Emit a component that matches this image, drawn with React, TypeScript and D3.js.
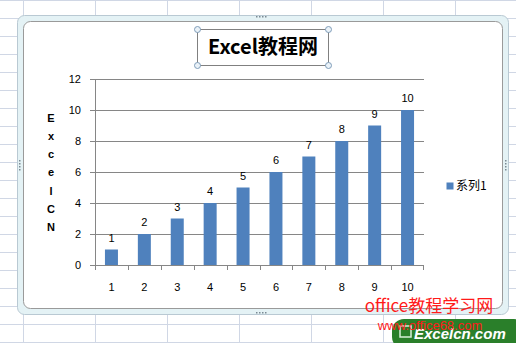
import React from "react";
import * as d3 from "d3";

const categories = ["1", "2", "3", "4", "5", "6", "7", "8", "9", "10"];
const values = [1, 2, 3, 4, 5, 6, 7, 8, 9, 10];
const yTicks = [0, 2, 4, 6, 8, 10, 12];
const seriesName = "系列1";
const titleText = "Excel教程网";
const yTitle = ["E", "x", "c", "e", "l", "C", "N"];

const W = 516, H = 343;
const plot = { left: 95, right: 424, top: 79, bottom: 265 };
const BAR = "#4F81BD";
const FONT = "'Liberation Sans', Arial, sans-serif";
const CJK = "'Noto Sans CJK SC', sans-serif";

export default function App() {
  const xb = d3.scaleBand<string>().domain(categories).range([plot.left, plot.right]);
  const y = d3.scaleLinear().domain([0, 12]).range([plot.bottom, plot.top]);
  const gridV = d3.range(23, W, 72);
  const gridH = d3.range(0, H + 1, 18);
  const bw = 13;
  return (
    <svg width={W} height={H} style={{ position: "absolute", left: 0, top: 0, display: "block" }}>
      <rect x={0} y={0} width={W} height={H} fill="#fff" />
      {gridH.map((g) => (
        <line key={"h" + g} x1={0} x2={W} y1={g + 0.5} y2={g + 0.5} stroke="#d0d7e5" />
      ))}
      {gridV.map((g) => (
        <line key={"v" + g} x1={g + 0.5} x2={g + 0.5} y1={0} y2={H} stroke="#d0d7e5" />
      ))}
      {/* selection frame */}
      <rect x={17.5} y={15.5} width={491} height={299} rx={7} fill="#e4f2f5" stroke="#b9c9d3" />
      <rect x={23.5} y={21.5} width={479} height={287} rx={7} fill="#fff" stroke="#9a9a9a" />
      {[[256, 16], [256, 312]].map(([cx, cy], i) => (
        <g key={"dh" + i}>{[0, 3, 6, 9].map((d) => <rect key={d} x={cx + d} y={cy} width={1.5} height={1.5} fill="#7a8a94" />)}</g>
      ))}
      {[[19, 160], [505, 160]].map(([cx, cy], i) => (
        <g key={"dv" + i}>{[0, 3, 6, 9].map((d) => <rect key={d} x={cx} y={cy + d} width={1.5} height={1.5} fill="#7a8a94" />)}</g>
      ))}
      {/* gridlines */}
      {yTicks.filter((t) => t > 0).map((t) => (
        <line key={"g" + t} x1={plot.left} x2={plot.right} y1={Math.round(y(t)) + 0.5} y2={Math.round(y(t)) + 0.5} stroke="#868686" />
      ))}
      {/* axes */}
      <line x1={plot.left + 0.5} x2={plot.left + 0.5} y1={plot.top} y2={plot.bottom + 0.5} stroke="#868686" />
      <line x1={plot.left} x2={plot.right} y1={plot.bottom + 0.5} y2={plot.bottom + 0.5} stroke="#868686" />
      {yTicks.map((t) => (
        <g key={"yt" + t}>
          <line x1={plot.left - 5} x2={plot.left} y1={Math.round(y(t)) + 0.5} y2={Math.round(y(t)) + 0.5} stroke="#868686" />
          <text x={81} y={y(t)} dy="0.35em" textAnchor="end" fontFamily={FONT} fontSize={11} fill="#000">{t}</text>
        </g>
      ))}
      {categories.map((c) => (
        <line key={"xt" + c} x1={Math.round(xb(c)!) + 0.5} x2={Math.round(xb(c)!) + 0.5} y1={plot.bottom} y2={plot.bottom + 5} stroke="#868686" />
      ))}
      <line x1={plot.right - 0.5} x2={plot.right - 0.5} y1={plot.bottom} y2={plot.bottom + 5} stroke="#868686" />
      {categories.map((c) => (
        <text key={"xl" + c} x={xb(c)! + xb.bandwidth() / 2} y={287} dy="0.35em" textAnchor="middle" fontFamily={FONT} fontSize={11} fill="#000">{c}</text>
      ))}
      {/* bars */}
      {values.map((v, i) => {
        const cx = xb(categories[i])! + xb.bandwidth() / 2;
        return (
          <g key={"b" + i}>
            <rect x={cx - bw / 2} y={y(v)} width={bw} height={y(0) - y(v)} fill={BAR} />
            <text x={cx} y={y(v) - 8} textAnchor="middle" fontFamily={FONT} fontSize={11} fill="#000">{v}</text>
          </g>
        );
      })}
      {/* y title */}
      {yTitle.map((ch, i) => (
        <text key={"yt" + i} x={51} y={118 + i * 18.2} dy="0.35em" textAnchor="middle" fontFamily={FONT} fontWeight="bold" fontSize={11} fill="#000">{ch}</text>
      ))}
      {/* title */}
      <rect x={197.5} y={29.5} width={131} height={36} fill="#fff" stroke="#808080" />
      <text x={263} y={54} textAnchor="middle" fontFamily={CJK} fontWeight="bold" fontSize={20} fill="#000">{titleText}</text>
      {[[197.5, 29.5], [328.5, 29.5], [197.5, 65.5], [328.5, 65.5]].map(([cx, cy], i) => (
        <circle key={"c" + i} cx={cx} cy={cy} r={3} fill="#eaf2f8" stroke="#7f9db9" />
      ))}
      {/* legend */}
      <rect x={446.5} y={182.5} width={7} height={7} fill={BAR} />
      <text x={456} y={186} dy="0.35em" fontFamily={CJK} fontSize={12} fill="#000">{seriesName}</text>
      {/* watermark */}
      <rect x={392} y={319} width={134} height={30} rx={12} fill="#2a7f2a" />
      <rect x={400} y={326} width={11} height={11} fill="none" stroke="#d8f0d8" strokeWidth={1.5} />
      <text x={414} y={339} fontFamily={FONT} fontWeight="bold" fontStyle="italic" fontSize={15} fill="#fff">Excelcn.com</text>
      <text x={429} y={312} textAnchor="middle" fontFamily={CJK} fontSize={17} fill="#ff1a1a">office教程学习网</text>
      <text x={430} y={330} textAnchor="middle" fontFamily={FONT} fontSize={13} fill="#ff1a1a">www.office68.com</text>
    </svg>
  );
}
